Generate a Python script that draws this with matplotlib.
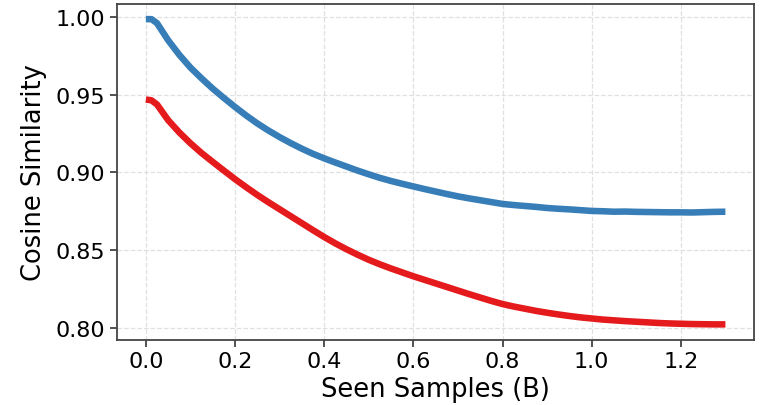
import numpy as np
import matplotlib
matplotlib.use("Agg")
import matplotlib.pyplot as plt

seen_samples = np.concatenate([[0.0, 0.0125], np.round(np.arange(0.025, 1.3001, 0.025), 4)])

blue_values = [
    0.9988, 0.9988, 0.9962, 0.9852, 0.9758, 0.9676, 0.9606, 0.9540, 0.9480,
    0.9422, 0.9367, 0.9316, 0.9270, 0.9228, 0.9189, 0.9153, 0.9120, 0.9091,
    0.9064, 0.9038, 0.9012, 0.8988, 0.8965, 0.8945, 0.8927, 0.8910, 0.8893,
    0.8877, 0.8861, 0.8846, 0.8833, 0.8821, 0.8809, 0.8797, 0.8790, 0.8784,
    0.8778, 0.8771, 0.8766, 0.8762, 0.8757, 0.8752, 0.8750, 0.8747, 0.8748,
    0.8746, 0.8745, 0.8744, 0.8743, 0.8743, 0.8742, 0.8744, 0.8746, 0.8747,
]

red_values = [
    0.9470, 0.9465, 0.9438, 0.9337, 0.9258, 0.9188, 0.9125, 0.9068, 0.9012,
    0.8957, 0.8905, 0.8855, 0.8808, 0.8763, 0.8718, 0.8673, 0.8628, 0.8584,
    0.8543, 0.8505, 0.8470, 0.8437, 0.8408, 0.8381, 0.8356, 0.8331, 0.8308,
    0.8285, 0.8262, 0.8239, 0.8216, 0.8194, 0.8172, 0.8152, 0.8136, 0.8122,
    0.8108, 0.8096, 0.8085, 0.8075, 0.8066, 0.8059, 0.8052, 0.8047, 0.8042,
    0.8038, 0.8034, 0.8030, 0.8027, 0.8025, 0.8023, 0.8022, 0.8021, 0.8021,
]

fig = plt.figure(figsize=(7.69, 4.06), dpi=100)
ax = fig.add_axes([0.152, 0.161, 0.829, 0.827])

ax.plot(seen_samples, blue_values, color="#377eb8", linewidth=4.7, solid_capstyle="butt")
ax.plot(seen_samples, red_values, color="#e41a1c", linewidth=4.7, solid_capstyle="butt")

ax.set_xticks([0.0, 0.2, 0.4, 0.6, 0.8, 1.0, 1.2])
ax.set_yticks([0.80, 0.85, 0.90, 0.95, 1.00])
ax.set_xticklabels(["0.0", "0.2", "0.4", "0.6", "0.8", "1.0", "1.2"])
ax.set_yticklabels(["0.80", "0.85", "0.90", "0.95", "1.00"])
ax.tick_params(labelsize=16, width=1.2, length=5, color="#333333")
ax.grid(True, linestyle="--", color="#dddddd", linewidth=0.9, alpha=0.9)
ax.set_axisbelow(True)
for s in ax.spines.values():
    s.set_color("#444444")
    s.set_linewidth(1.3)

ax.set_xlabel("Seen Samples (B)", fontsize=18.5, labelpad=3)
ax.set_ylabel("Cosine Similarity", fontsize=18.5, labelpad=6)

fig.savefig("out.png", dpi=100)
